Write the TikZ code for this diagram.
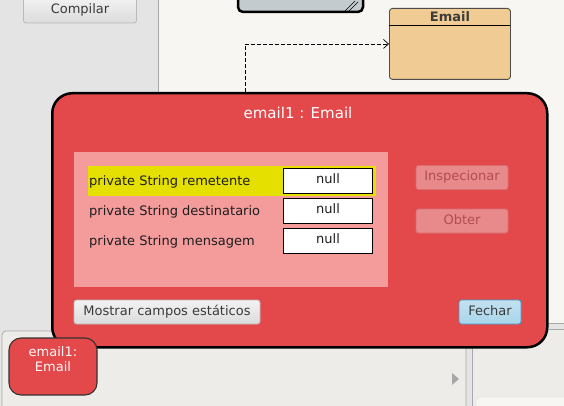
\documentclass[tikz,border=0pt]{standalone}
\usepackage{fontspec}
\setmainfont{DejaVu Sans}
\usetikzlibrary{arrows.meta}
\definecolor{leftbg}{HTML}{E4E4E4}
\definecolor{canvasbg}{HTML}{F7F6F2}
\definecolor{benchbg}{HTML}{EDECE8}
\definecolor{sepgray}{HTML}{A8A8A8}
\definecolor{dlgred}{HTML}{E3494B}
\definecolor{panelpink}{HTML}{F49C9C}
\definecolor{hiyellow}{HTML}{E6E000}
\definecolor{classfill}{HTML}{F0CB94}
\definecolor{classtext}{HTML}{3C3C3C}
\definecolor{graybox}{HTML}{C3CBCE}
\definecolor{disfill}{HTML}{E8898B}
\definecolor{disdraw}{HTML}{D86E70}
\definecolor{distext}{HTML}{B24D50}
\definecolor{bluefill}{HTML}{A9D5EA}
\definecolor{bluedraw}{HTML}{3A9CCB}
\definecolor{btntext}{HTML}{3A3A3A}
\definecolor{labeltext}{HTML}{1E1E1E}
\tikzset{
  txt/.style={inner sep=0pt, font=\fontsize{13}{15}\selectfont, text height=9.5pt, text depth=3.1pt},
  btn/.style={txt, draw=#1, rounded corners=2.5pt, line width=0.8pt, text=btntext, align=center},
  greybtn/.style={btn=sepgray!80, top color=white!95!black, bottom color=white!86!black},
  disbtn/.style={btn=disdraw, fill=disfill, text=distext},
  bluebtn/.style={btn=bluedraw, top color=bluefill!70!white, bottom color=bluefill},
  nullbox/.style={txt, draw=black, fill=white, line width=0.8pt, minimum width=89pt, minimum height=25pt, text=labeltext},
  fieldlabel/.style={txt, anchor=west, text=labeltext},
  classbox/.style={draw=black!70, fill=classfill, rounded corners=3pt, line width=0.9pt, inner sep=0pt},
  dialogbox/.style={draw=black, fill=dlgred, rounded corners=20pt, line width=2.5pt, inner sep=0pt},
  objbox/.style={draw=black!80, fill=dlgred, rounded corners=12pt, line width=1.1pt, inner sep=0pt},
  depline/.style={draw=black, line width=0.8pt, dash pattern=on 4pt off 2pt, -{Straight Barb[length=5pt,width=9pt,line width=0.7pt]}},
}
\begin{document}
\begin{tikzpicture}[x=1pt,y=-1pt]
\useasboundingbox (0,0) rectangle (564,406);
% backgrounds
\fill[leftbg] (0,0) rectangle (564,406);
\fill[canvasbg] (158,0) rectangle (564,323);
\draw[sepgray, line width=0.8pt] (158,0) -- (158,323);
\draw[sepgray, line width=0.8pt] (466,323) -- (564,323);
\draw[sepgray, line width=0.8pt] (472,329) -- (564,329);
\draw[sepgray, line width=0.8pt, fill=benchbg, rounded corners=4pt] (466,412) -- (466,331) -- (2,331) -- (2,412);
\draw[sepgray, line width=0.8pt, fill=benchbg] (472,412) -- (472,329) -- (566,329) -- (566,412);
\draw[black!15, fill=canvasbg, rounded corners=4pt] (476,412) -- (476,397) -- (568,397) -- (568,412);
\fill[sepgray] (452,373) -- (459,379) -- (452,385) -- cycle;
% compile button
\node[greybtn, minimum width=113pt, minimum height=26pt] (compilar) at (80,10) {Compilar};
% grey class box at top
\node[draw=black, fill=graybox, rounded corners=5pt, line width=2.5pt, minimum width=125pt, minimum height=20pt, inner sep=0pt] (topclass) at (300.5,2) {};
\draw[black, line width=0.7pt] (345,11) -- (355,1) (349,11) -- (358,2);
% Email class
\node[classbox, minimum width=121pt, minimum height=71pt, anchor=north west] (emailcls) at (389,8) {};
\draw[black, line width=0.9pt] (389,25) -- (510,25);
\node[inner sep=0pt, font=\bfseries\fontsize{13}{15}\selectfont, text=classtext, text height=9.5pt, text depth=0pt] (emailname) at (450,17) {Email};
% dependency arrow
\coordinate (depstart) at (245,92);
\draw[depline] (depstart) |- (emailcls.west);
% dialog
\node[dialogbox, minimum width=495pt, minimum height=254pt, anchor=north west] (dlg) at (51,92) {};
\node[inner sep=0pt, font=\fontsize{15}{17}\selectfont, text=white, text height=11pt, text depth=0pt] (title) at (298,113.5) {email1 : Email};
\fill[panelpink] (74,152) rectangle (388,287);
\fill[hiyellow] (88,166) rectangle (376,196);
\node[fieldlabel] (f1) at (89,182) {private String remetente};
\node[fieldlabel] (f2) at (89,212) {private String destinatario};
\node[fieldlabel] (f3) at (89,242) {private String mensagem};
\node[nullbox] (v1) at (328,180.5) {null};
\node[nullbox] (v2) at (328,210.5) {null};
\node[nullbox] (v3) at (328,240.5) {null};
\node[disbtn, minimum width=92pt, minimum height=24pt] (insp) at (462,177.5) {Inspecionar};
\node[disbtn, minimum width=92pt, minimum height=24pt] (obter) at (462,221) {Obter};
\node[greybtn, minimum width=186pt, minimum height=24pt] (mostrar) at (167,312) {Mostrar campos estáticos};
\node[bluebtn, minimum width=62pt, minimum height=24pt] (fechar) at (490,312) {Fechar};
% object on bench
\node[objbox, minimum width=88pt, minimum height=57pt] (obj) at (53,366.5) {};
\node[txt, text=white!90!pink, align=center] (objname) at (53,368) {email1:\\Email};
\end{tikzpicture}
\end{document}
